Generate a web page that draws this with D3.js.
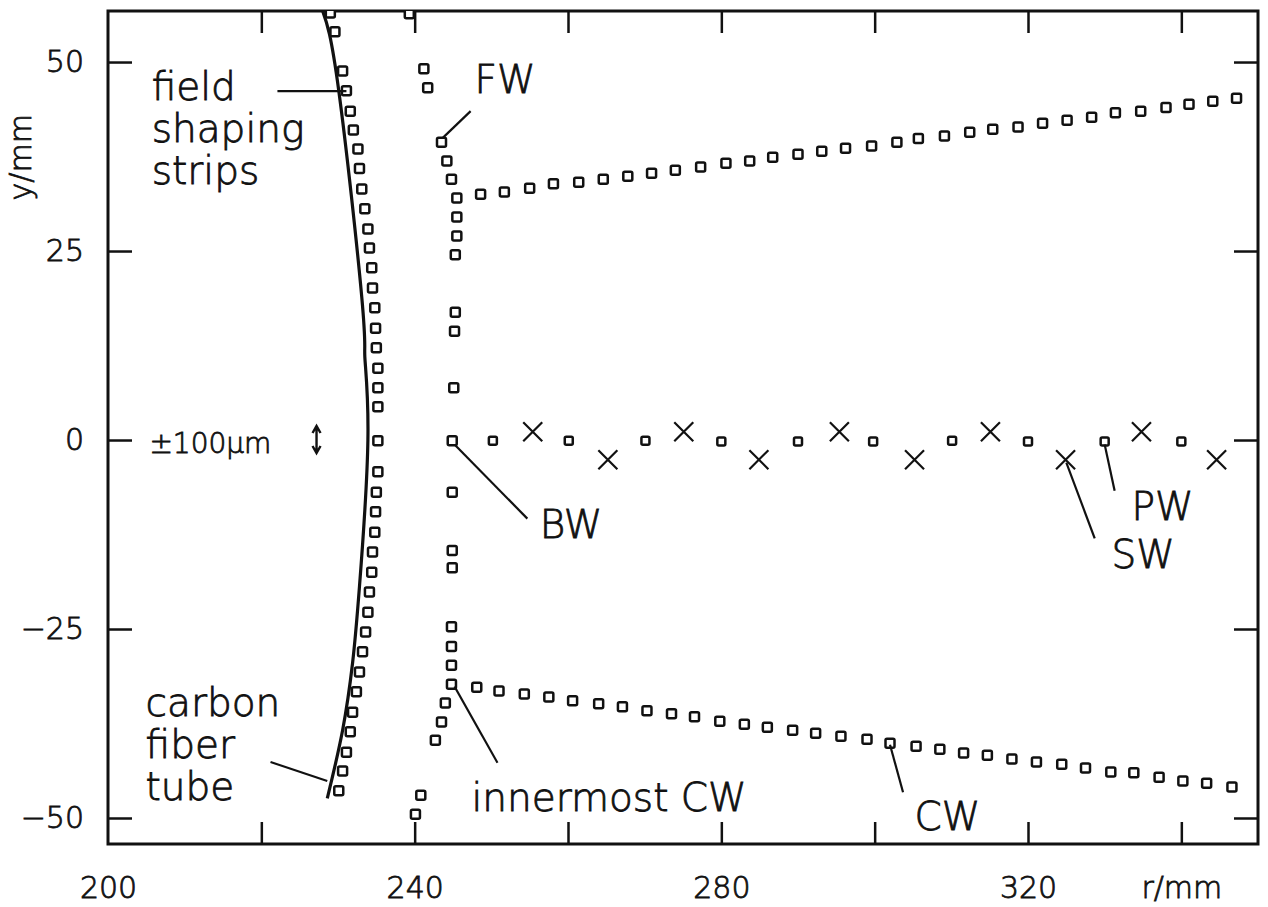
<!DOCTYPE html>
<html>
<head>
<meta charset="utf-8">
<script src="https://cdnjs.cloudflare.com/ajax/libs/d3/7.8.5/d3.min.js"></script>
<style>
  body { margin: 0; background: #fff; }
  svg text { font-family: "DejaVu Sans", sans-serif; fill: #111; font-weight: 200; stroke: #111; stroke-width: 0.8px; }
</style>
</head>
<body>
<div id="chart"></div>
<script>
// field shaping strips (r, y in mm)
const stripR = [229.0, 229.6, 230.6, 231.1, 231.6, 232.0, 232.6, 232.8, 233.1, 233.5, 233.9, 234.1, 234.4, 234.5, 234.8, 234.9, 235.0, 235.2, 235.2, 235.2, 235.2, 235.2, 235.0, 234.9, 234.8, 234.5, 234.4, 234.1, 233.9, 233.6, 233.2, 232.8, 232.4, 231.9, 231.6, 231.1, 230.6, 230.1];
const stripY = [56.5, 54.0, 48.8, 46.2, 43.5, 41.0, 38.5, 35.9, 33.2, 30.6, 27.9, 25.4, 22.8, 20.1, 17.5, 14.8, 12.2, 9.5, 6.9, 4.4, -0.1, -4.2, -6.9, -9.5, -12.2, -14.8, -17.5, -20.1, -22.8, -25.4, -28.0, -30.7, -33.3, -36.0, -38.6, -41.3, -43.8, -46.4];

// carbon fiber tube outline
const tubeR = [228.0, 230.1, 233.1, 233.5, 233.9, 232.8, 231.9, 230.6, 228.6];
const tubeY = [56.75, 46.2, 18.9, 11.0, 0.0, -19.4, -29.5, -38.4, -47.4];

// inner column of wires (FW ... BW ... innermost CW)
const innerR = [239.3, 241.2, 241.7, 243.5, 244.2, 244.8, 245.5, 245.5, 245.5, 245.3, 245.3, 245.2, 245.1, 244.9, 244.9, 244.9, 244.9, 244.8, 244.8, 244.8, 244.8, 244.0, 243.5, 242.7, 240.8, 240.1];
const innerY = [56.4, 49.1, 46.6, 39.4, 36.9, 34.5, 32.0, 29.5, 27.0, 24.5, 16.9, 14.4, 6.9, -0.1, -6.9, -14.6, -16.9, -24.7, -27.3, -29.8, -32.3, -34.8, -37.3, -39.7, -47.0, -49.5];

// upper row of field wires
const upperR = [248.6, 251.7, 255.0, 258.1, 261.4, 264.6, 267.8, 270.9, 274.0, 277.3, 280.6, 283.7, 286.7, 290.0, 293.1, 296.2, 299.6, 302.9, 305.7, 309.1, 312.4, 315.4, 318.7, 321.9, 325.1, 328.3, 331.4, 334.7, 338.0, 341.0, 344.1, 347.2];
const upperY = [32.5, 32.8, 33.3, 33.9, 34.1, 34.5, 34.9, 35.3, 35.7, 36.1, 36.6, 36.9, 37.4, 37.8, 38.2, 38.6, 38.9, 39.4, 39.9, 40.2, 40.7, 41.1, 41.4, 41.9, 42.3, 42.7, 43.3, 43.5, 44.0, 44.4, 44.8, 45.2];

// lower row, cathode wires (CW)
const cwR = [248.1, 251.0, 254.3, 257.5, 260.6, 264.0, 267.1, 270.3, 273.5, 276.5, 279.8, 283.0, 286.0, 289.3, 292.3, 295.6, 299.0, 302.0, 305.4, 308.5, 311.6, 314.7, 317.9, 321.1, 324.4, 327.5, 330.8, 333.8, 337.1, 340.2, 343.3, 346.6];
const cwY = [-32.7, -33.2, -33.6, -34.0, -34.5, -34.9, -35.3, -35.8, -36.2, -36.6, -37.2, -37.6, -38.0, -38.4, -38.8, -39.2, -39.6, -40.1, -40.5, -40.9, -41.4, -41.7, -42.2, -42.6, -42.9, -43.4, -43.9, -44.0, -44.6, -45.1, -45.4, -45.9];

// potential wires (PW) and sense wires (SW, staggered)
const pwR = [250.2, 260.1, 270.1, 280.0, 290.0, 299.8, 310.1, 320.0, 330.0, 340.0];
const pwY = [-0.1, -0.1, -0.1, -0.2, -0.2, -0.2, -0.1, -0.2, -0.2, -0.2];
const swR = [255.4, 265.2, 275.1, 284.9, 295.4, 305.2, 315.1, 324.9, 334.8, 344.6];
const swY = [1.1, -2.6, 1.1, -2.6, 1.1, -2.6, 1.1, -2.6, 1.1, -2.6];

// axis ticks
const xTicks = [200, 220, 240, 260, 280, 300, 320, 340];
const xTickLabels = { 200: "200", 240: "240", 280: "280", 320: "320", 340: "r/mm" };
const yTicks = [-50, -25, 0, 25, 50];

const W = 1268, H = 907;
const mLeft = 108, mRight = 1258, mTop = 11, mBottom = 844;

const x = d3.scaleLinear().domain([200, 350]).range([mLeft, mRight]);
const y = d3.scaleLinear().domain([-53.44, 56.75]).range([mBottom, mTop]);

const svg = d3.select("#chart").append("svg").attr("width", W).attr("height", H);

function zip(rs, ys) {
  return rs.map(function (r, i) {
    return { r: r, y: ys[i] };
  });
}

svg.append("clipPath").attr("id", "plotClip")
  .append("rect").attr("x", mLeft).attr("y", mTop).attr("width", mRight - mLeft).attr("height", mBottom - mTop);

// axes
let gx = svg.append("g").attr("transform", "translate(0," + mBottom + ")")
  .call(d3.axisBottom(x).tickValues(xTicks).tickSizeInner(-22).tickSizeOuter(0).tickPadding(33)
    .tickFormat(function (d) { return xTickLabels[d] || ""; }));
let gxt = svg.append("g").attr("transform", "translate(0," + mTop + ")")
  .call(d3.axisTop(x).tickValues(xTicks).tickSizeInner(-22).tickSizeOuter(0).tickFormat(""));
let gy = svg.append("g").attr("transform", "translate(" + mLeft + ",0)")
  .call(d3.axisLeft(y).tickValues(yTicks).tickSizeInner(-24).tickSizeOuter(0).tickPadding(24)
    .tickFormat(function (d) { return d < 0 ? "\u2212" + Math.abs(d) : d; }));
let gyr = svg.append("g").attr("transform", "translate(" + mRight + ",0)")
  .call(d3.axisRight(y).tickValues(yTicks).tickSizeInner(-24).tickSizeOuter(0).tickFormat(""));

[gx, gxt, gy, gyr].forEach(function (g) {
  g.select(".domain").remove();
  g.selectAll(".tick line").attr("stroke", "#111").attr("stroke-width", 2.5);
  g.selectAll(".tick text").style("font-size", "30px").attr("fill", "#111");
});
gx.selectAll(".tick").filter(function (d) { return d === 200; }).select("line").remove();
gxt.selectAll(".tick").filter(function (d) { return d === 200; }).select("line").remove();

svg.append("rect").attr("x", mLeft).attr("y", mTop).attr("width", mRight - mLeft).attr("height", mBottom - mTop)
  .attr("fill", "none").attr("stroke", "#111").attr("stroke-width", 3);

svg.append("text").attr("transform", "translate(20," + y(37.4) + ") rotate(-90)")
  .attr("text-anchor", "middle").attr("dy", "0.35em").style("font-size", "30px").text("y/mm");

let plot = svg.append("g").attr("clip-path", "url(#plotClip)");

// carbon fiber tube
let tubeLine = d3.line().x(function (d) { return x(d.r); }).y(function (d) { return y(d.y); }).curve(d3.curveNatural);
plot.append("path").attr("d", tubeLine(zip(tubeR, tubeY)))
  .attr("fill", "none").attr("stroke", "#111").attr("stroke-width", 3.2);

function squares(data, size) {
  plot.append("g").selectAll("rect").data(data).enter().append("rect")
    .attr("x", function (d) { return x(d.r) - size / 2; })
    .attr("y", function (d) { return y(d.y) - size / 2; })
    .attr("width", size).attr("height", size).attr("rx", 1.5)
    .attr("fill", "#fff").attr("stroke", "#111").attr("stroke-width", 2.5);
}

squares(zip(stripR, stripY), 9);
squares(zip(innerR, innerY), 9);
squares(zip(upperR, upperY), 9);
squares(zip(cwR, cwY), 9);
squares(zip(pwR, pwY), 8);

// sense wires as crosses
let cs = 9.5;
plot.append("g").selectAll("path").data(zip(swR, swY)).enter().append("path")
  .attr("d", function (d) {
    let cx = x(d.r), cy = y(d.y);
    return "M" + (cx - cs) + "," + (cy - cs) + "L" + (cx + cs) + "," + (cy + cs) +
      "M" + (cx - cs) + "," + (cy + cs) + "L" + (cx + cs) + "," + (cy - cs);
  })
  .attr("fill", "none").attr("stroke", "#111").attr("stroke-width", 2.2);

// leader lines
let leaders = [
  [222.1, 46.16, 231.1, 46.16],
  [221.2, -42.6, 228.6, -45.1],
  [247.3, 43.5, 243.7, 40.0],
  [245.2, -0.6, 254.7, -10.4],
  [330.0, -0.6, 331.3, -6.7],
  [325.0, -3.0, 328.7, -13.0],
  [245.2, -32.6, 250.8, -42.7],
  [302.0, -40.3, 303.7, -46.6]
];
svg.append("g").selectAll("line").data(leaders).enter().append("line")
  .attr("x1", function (d) { return x(d[0]); }).attr("y1", function (d) { return y(d[1]); })
  .attr("x2", function (d) { return x(d[2]); }).attr("y2", function (d) { return y(d[3]); })
  .attr("stroke", "#111").attr("stroke-width", 2.2);

// multi-line labels
function block(r, v, lines) {
  let t = svg.append("text").attr("x", x(r)).attr("y", y(v)).style("font-size", "39px");
  lines.forEach(function (s, i) {
    t.append("tspan").attr("x", x(r)).attr("dy", i === 0 ? 0 : 42).text(s);
  });
}
block(205.7, 44.97, ["field", "shaping", "strips"]);
block(204.9, -36.5, ["carbon", "fiber", "tube"]);

let labels = [
  [247.8, 45.9, "FW"], [256.3, -13.0, "BW"], [333.5, -10.6, "PW"], [330.9, -16.9, "SW"],
  [247.4, -49.1, "innermost CW"], [305.2, -51.6, "CW"]
];
svg.append("g").selectAll("text").data(labels).enter().append("text")
  .attr("x", function (d) { return x(d[0]); }).attr("y", function (d) { return y(d[1]); })
  .style("font-size", "39px").text(function (d) { return d[2]; });

svg.append("text").attr("x", x(205.4)).attr("y", y(-1.72)).style("font-size", "28px").text("\u00b1100\u03bcm");

// +-100um scale arrow
let ax = x(227.2), a1 = y(1.85), a2 = y(-1.72);
svg.append("path")
  .attr("d", "M" + ax + "," + a1 + "L" + ax + "," + a2 +
    "M" + (ax - 4) + "," + (a1 + 7) + "L" + ax + "," + a1 + "L" + (ax + 4) + "," + (a1 + 7) +
    "M" + (ax - 4) + "," + (a2 - 7) + "L" + ax + "," + a2 + "L" + (ax + 4) + "," + (a2 - 7))
  .attr("fill", "none").attr("stroke", "#111").attr("stroke-width", 2.4);
</script>
</body>
</html>
